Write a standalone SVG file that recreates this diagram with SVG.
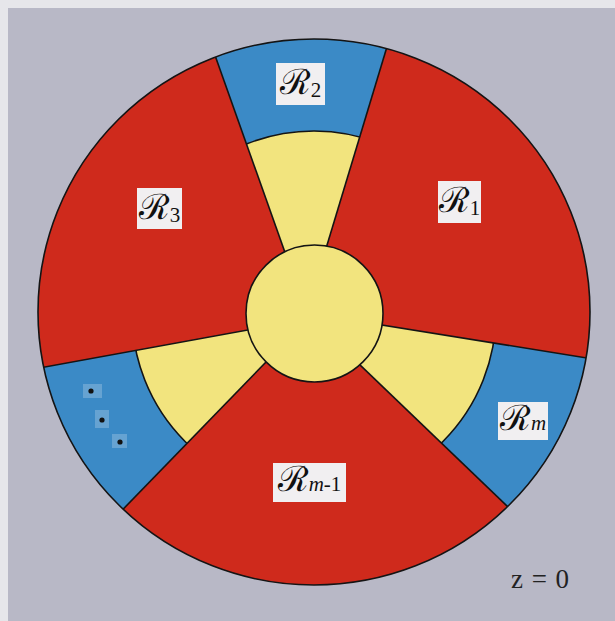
<svg xmlns="http://www.w3.org/2000/svg" width="615" height="621" viewBox="0 0 615 621">
<defs>
<style>
.bg{fill:#b8b8c6}
.red{fill:#cf2a1c}
.blue{fill:#3b8ac6}
.yel{fill:#f2e47e}
.ln{stroke:#141414;stroke-width:1.6;fill:none}
.box{fill:#f1eff1}
.lab{font-family:"DejaVu Serif","Liberation Serif",serif;fill:#111}
.r{font-size:35px}
.s{font-size:21px;font-family:"Liberation Serif",serif}
.m{font-style:italic}
.dotbox{fill:#ffffff;fill-opacity:0.22}
</style>
<clipPath id="outer"><ellipse cx="314" cy="312" rx="276" ry="273"/></clipPath>
<clipPath id="yring"><circle cx="314" cy="313" r="182"/></clipPath>
<clipPath id="wedges">
<polygon points="306.5,313 206,30 396,17"/>
<polygon points="305.5,312.7 618,363 531,529"/>
<polygon points="307.8,319 99,534 12,373"/>
</clipPath>
</defs>
<rect x="0" y="0" width="615" height="621" fill="#e6e6ea"/>
<rect x="8" y="8" width="607" height="613" class="bg"/>

<g id="disk">
<ellipse cx="314" cy="312" rx="276" ry="273" class="red"/>
<g clip-path="url(#outer)">
<g id="sector-R2"><polygon points="306.5,313 206,30 396,17" class="blue"/></g>
<g id="sector-Rm"><polygon points="305.5,312.7 618,363 531,529" class="blue"/></g>
<g id="sector-dots"><polygon points="307.8,319 99,534 12,373" class="blue"/></g>
</g>
<g clip-path="url(#yring)">
<polygon points="306.5,313 206,30 396,17" class="yel"/>
<polygon points="305.5,312.7 618,363 531,529" class="yel"/>
<polygon points="307.8,319 99,534 12,373" class="yel"/>
</g>
<circle cx="314" cy="313" r="182" class="ln" clip-path="url(#wedges)"/>
</g>

<g id="connectors" clip-path="url(#outer)">
<line x1="306.5" y1="313" x2="206" y2="30" class="ln"/>
<line x1="306.5" y1="313" x2="396" y2="17" class="ln"/>
<line x1="305.5" y1="312.7" x2="618" y2="363" class="ln"/>
<line x1="305.5" y1="312.7" x2="531" y2="529" class="ln"/>
<line x1="307.8" y1="319" x2="99" y2="534" class="ln"/>
<line x1="307.8" y1="319" x2="12" y2="373" class="ln"/>
</g>
<ellipse cx="314" cy="312" rx="276" ry="273" class="ln"/>

<g id="core"><circle cx="314.5" cy="313.5" r="68.5" class="yel" stroke="#141414" stroke-width="1.6"/></g>

<g id="label-R2">
<rect x="276" y="63" width="49" height="42" class="box"/>
<text x="300.5" y="94" text-anchor="middle" class="lab"><tspan class="r">ℛ</tspan><tspan class="s" dy="3">2</tspan></text>
</g>
<g id="label-R1">
<rect x="438" y="181" width="43" height="42" class="box"/>
<text x="459.5" y="212" text-anchor="middle" class="lab"><tspan class="r">ℛ</tspan><tspan class="s" dy="3">1</tspan></text>
</g>
<g id="label-R3">
<rect x="137" y="188" width="45" height="41" class="box"/>
<text x="159.5" y="219" text-anchor="middle" class="lab"><tspan class="r">ℛ</tspan><tspan class="s" dy="3">3</tspan></text>
</g>
<g id="label-Rm">
<rect x="498" y="402" width="50" height="38" class="box"/>
<text x="523" y="430" text-anchor="middle" class="lab"><tspan class="r">ℛ</tspan><tspan class="s m">m</tspan></text>
</g>
<g id="label-Rm-1">
<rect x="273" y="463" width="73" height="39" class="box"/>
<text x="309.5" y="491" text-anchor="middle" class="lab"><tspan class="r">ℛ</tspan><tspan class="s m">m</tspan><tspan class="s">-1</tspan></text>
</g>
<g id="dots">
<rect x="83" y="384" width="19" height="14" class="dotbox"/>
<rect x="95" y="410" width="14" height="18" class="dotbox"/>
<rect x="112" y="434" width="15" height="14" class="dotbox"/>
<circle cx="91" cy="391" r="2.6" fill="#111"/>
<circle cx="102" cy="420" r="2.6" fill="#111"/>
<circle cx="120" cy="442" r="2.6" fill="#111"/>
</g>
<g id="label-z">
<text x="540" y="588" text-anchor="middle" font-family="Liberation Serif, serif" font-size="27" fill="#222" textLength="58" lengthAdjust="spacing">z = 0</text>
</g>
</svg>
